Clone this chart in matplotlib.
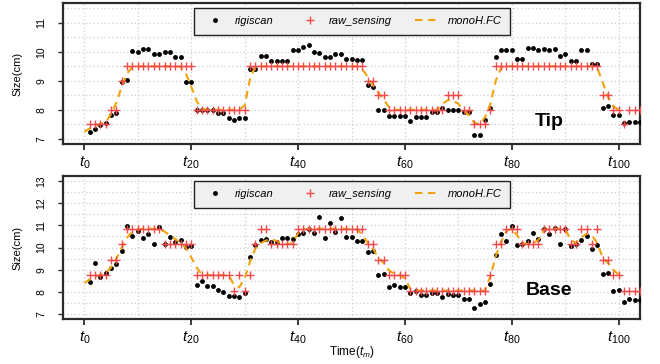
import matplotlib
matplotlib.use('Agg')
import matplotlib.pyplot as plt
from matplotlib.lines import Line2D

plt.rcParams['font.family'] = ['Liberation Sans', 'DejaVu Sans']
plt.rcParams['mathtext.fontset'] = 'custom'
plt.rcParams['mathtext.it'] = 'Liberation Sans:italic'
plt.rcParams['mathtext.rm'] = 'Liberation Sans'

# ---------------- data ----------------
time_points = list(range(1, 105))
curve_time = list(range(0, 101))

tip_rigiscan = [
    7.23, 7.33, 7.48, 7.54, 7.83, 7.89, 8.94, 9.01, 10.01, 10.00,
    10.11, 10.11, 9.92, 9.92, 9.98, 10.00, 9.82, 9.82, 8.97, 8.97,
    8.00, 8.00, 8.00, 8.00, 7.90, 7.90, 7.72, 7.65, 7.70, 7.70,
    9.40, 9.40, 9.86, 9.86, 9.67, 9.67, 9.67, 9.67, 10.07, 10.07,
    10.15, 10.22, 9.98, 9.96, 9.82, 9.82, 9.93, 9.93, 9.76, 9.74,
    9.72, 9.70, 8.86, 8.78, 8.00, 8.00, 7.77, 7.77, 7.77, 7.77,
    7.63, 7.74, 7.75, 7.75, 7.94, 7.94, 8.05, 8.00, 8.00, 8.00,
    7.91, 7.91, 7.14, 7.14, 7.66, 8.05, 9.82, 10.07, 10.07, 10.07,
    9.76, 9.76, 10.13, 10.13, 10.05, 10.10, 10.05, 10.11, 9.86, 9.92,
    9.67, 9.67, 10.07, 10.07, 9.57, 9.57, 8.06, 8.14, 7.83, 7.83,
    7.54, 7.59, 7.59, 7.59]

tip_raw = [
    7.5, 7.5, 7.5, 7.5, 8.0, 8.0, 9.0, 9.5, 9.5, 9.5,
    9.5, 9.5, 9.5, 9.5, 9.5, 9.5, 9.5, 9.5, 9.5, 9.5,
    8.0, 8.0, 8.0, 8.0, 8.0, 8.0, 8.0, 8.0, 8.0, 8.0,
    9.5, 9.5, 9.5, 9.5, 9.5, 9.5, 9.5, 9.5, 9.5, 9.5,
    9.5, 9.5, 9.5, 9.5, 9.5, 9.5, 9.5, 9.5, 9.5, 9.5,
    9.5, 9.5, 9.0, 9.0, 8.5, 8.5, 8.0, 8.0, 8.0, 8.0,
    8.0, 8.0, 8.0, 8.0, 8.0, 8.0, 8.0, 8.5, 8.5, 8.5,
    8.0, 8.0, 7.5, 7.5, 7.5, 8.0, 9.5, 9.5, 9.5, 9.5,
    9.5, 9.5, 9.5, 9.5, 9.5, 9.5, 9.5, 9.5, 9.5, 9.5,
    9.5, 9.5, 9.5, 9.5, 9.5, 9.5, 8.5, 8.5, 8.0, 8.0,
    7.5, 8.0, 8.0, 8.0]

tip_mono = [
    7.25, 7.35, 7.45, 7.52, 7.58, 7.85, 8.25, 8.80, 9.25, 9.48,
    9.50, 9.50, 9.50, 9.50, 9.50, 9.50, 9.50, 9.50, 9.48, 9.25,
    8.80, 8.30, 8.03, 8.00, 8.00, 8.00, 8.00, 8.00, 8.00, 8.00,
    8.15, 9.05, 9.50, 9.50, 9.50, 9.50, 9.50, 9.50, 9.50, 9.50,
    9.50, 9.50, 9.50, 9.50, 9.50, 9.50, 9.50, 9.50, 9.50, 9.50,
    9.50, 9.50, 9.40, 9.15, 8.85, 8.60, 8.35, 8.10, 8.00, 8.00,
    8.00, 8.00, 8.00, 8.00, 8.00, 8.00, 8.00, 8.20, 8.33, 8.33,
    8.20, 8.00, 7.80, 7.55, 7.50, 7.75, 8.20, 9.00, 9.45, 9.50,
    9.50, 9.50, 9.50, 9.50, 9.50, 9.50, 9.50, 9.50, 9.50, 9.50,
    9.50, 9.50, 9.50, 9.50, 9.50, 9.50, 9.45, 8.95, 8.45, 8.12,
    8.00]

base_rigiscan = [
    8.44, 9.30, 8.67, 8.85, 9.05, 9.26, 9.82, 10.97, 10.53, 10.73,
    10.41, 10.59, 10.17, 10.91, 10.15, 10.47, 10.23, 10.33, 10.02, 10.08,
    8.30, 8.47, 8.26, 8.26, 8.06, 7.99, 7.81, 7.81, 7.75, 7.95,
    9.56, 10.12, 10.34, 10.40, 10.26, 10.26, 10.42, 10.42, 10.40, 10.60,
    10.65, 10.82, 10.65, 11.38, 10.42, 11.09, 10.69, 11.35, 10.49, 10.49,
    10.29, 10.29, 9.80, 9.86, 8.75, 8.80, 8.22, 8.31, 8.22, 8.22,
    7.95, 8.02, 7.86, 7.86, 7.95, 7.95, 7.75, 7.90, 7.86, 7.86,
    7.65, 7.65, 7.26, 7.46, 7.54, 8.34, 9.65, 10.60, 10.29, 10.98,
    10.10, 10.14, 10.29, 10.65, 10.38, 10.83, 10.61, 10.89, 10.16, 10.83,
    10.05, 10.14, 10.34, 10.53, 9.95, 10.10, 8.82, 8.85, 8.05, 8.08,
    7.54, 7.65, 7.61, 7.61]

base_raw = [
    8.75, 8.75, 8.75, 8.75, 9.45, 9.45, 10.15, 10.85, 10.85, 10.85,
    10.85, 10.85, 10.85, 10.85, 10.15, 10.15, 10.15, 10.15, 10.15, 10.15,
    8.75, 8.75, 8.75, 8.75, 8.75, 8.75, 8.75, 8.05, 8.75, 8.05,
    8.75, 10.15, 10.85, 10.85, 10.15, 10.15, 10.15, 10.15, 10.15, 10.85,
    10.85, 10.85, 10.85, 10.85, 10.85, 10.85, 10.85, 10.85, 10.85, 10.85,
    10.85, 10.85, 10.15, 10.15, 9.45, 9.45, 8.75, 8.75, 8.75, 8.75,
    8.05, 8.05, 8.05, 8.05, 8.05, 8.05, 8.05, 8.05, 8.05, 8.05,
    8.05, 8.05, 8.05, 8.05, 8.05, 8.75, 10.15, 10.15, 10.85, 10.85,
    10.85, 10.15, 10.15, 10.15, 10.15, 10.85, 10.85, 10.85, 10.85, 10.85,
    10.15, 10.15, 10.85, 10.85, 10.15, 10.85, 9.45, 9.45, 8.75, 8.75,
    8.05, 8.05, 8.05, 8.05]

base_mono = [
    8.39, 8.55, 8.68, 8.76, 8.85, 9.10, 9.50, 10.00, 10.45, 10.72,
    10.82, 10.85, 10.85, 10.85, 10.82, 10.72, 10.55, 10.38, 10.22, 9.98,
    9.55, 9.10, 8.76, 8.75, 8.75, 8.75, 8.75, 8.75, 8.30, 8.20,
    8.60, 9.35, 9.95, 10.20, 10.32, 10.37, 10.30, 10.18, 10.15, 10.20,
    10.65, 10.82, 10.85, 10.85, 10.85, 10.85, 10.85, 10.85, 10.85, 10.85,
    10.85, 10.82, 10.60, 10.22, 9.95, 9.55, 9.30, 8.97, 8.80, 8.75,
    8.60, 8.12, 8.05, 8.05, 8.05, 8.05, 8.05, 8.05, 8.05, 8.05,
    8.05, 8.05, 8.05, 8.05, 8.05, 8.05, 8.70, 9.60, 10.25, 10.75,
    10.85, 10.55, 10.20, 10.16, 10.18, 10.35, 10.78, 10.85, 10.85, 10.85,
    10.85, 10.35, 10.20, 10.45, 10.62, 10.55, 10.20, 9.55, 9.30, 9.00,
    8.76]

x_tick_values = [0, 20, 40, 60, 80, 100]
x_tick_labels = [r'$t_{0}$', r'$t_{20}$', r'$t_{40}$', r'$t_{60}$', r'$t_{80}$', r'$t_{100}$']
series_names = ['rigiscan', 'raw_sensing', 'monoH.FC']

# ---------------- style ----------------
DOT_COLOR = 'black'
PLUS_COLOR = '#F24A4A'
CURVE_COLOR = '#F0A30A'
GRID_COLOR = '#CFCFCF'
SPINE_COLOR = '#2b2b2b'
DASHES = (0, (3.6, 2.6))

fig = plt.figure(figsize=(6.6, 3.64), dpi=100)
ax_tip = fig.add_axes([63 / 660, 1 - 144 / 364, 577 / 660, 141 / 364])
ax_base = fig.add_axes([63 / 660, 1 - 319 / 364, 577 / 660, 143 / 364])


def draw_panel(ax, rigi, raw, mono, ylim, yticks, label, label_xy):
    ax.set_xlim(-4, 104)
    span = ylim[1] - ylim[0]
    ax.set_ylim(ylim[0] - 0.04 * span, ylim[1] + 0.04 * span)
    # grid
    for gx in range(0, 101, 10):
        ax.axvline(gx, color=GRID_COLOR, lw=0.9, ls=(0, (1, 2)), zorder=0)
    gy = ylim[0]
    while gy <= ylim[1] + 1e-9:
        ax.axhline(gy, color=GRID_COLOR, lw=0.9, ls=(0, (1, 2)), zorder=0)
        gy += 0.5
    ax.plot(time_points, rigi, 'o', color=DOT_COLOR, ms=3.5, mew=0, zorder=3)
    ax.plot(curve_time, mono, color=CURVE_COLOR, lw=1.5, ls=DASHES, zorder=4)
    ax.plot(time_points, raw, '+', color=PLUS_COLOR, ms=6.0, mew=1.0, zorder=5)
    ax.set_xticks(x_tick_values)
    ax.set_xticklabels(x_tick_labels, fontsize=11)
    ax.set_yticks(yticks)
    ax.set_yticklabels([str(v) for v in yticks], fontsize=7.5, rotation=90, va='center')
    ax.tick_params(axis='x', length=4.5, width=1.3, pad=3, color=SPINE_COLOR)
    ax.tick_params(axis='y', length=3.8, width=1.0, pad=8, color=SPINE_COLOR)
    for sp in ax.spines.values():
        sp.set_linewidth(1.6)
        sp.set_color(SPINE_COLOR)
    handles = [
        Line2D([], [], marker='o', ls='none', color=DOT_COLOR, ms=3.5, mew=0),
        Line2D([], [], marker='+', ls='none', color=PLUS_COLOR, ms=6.0, mew=1.0),
        Line2D([], [], color=CURVE_COLOR, lw=1.5, ls=DASHES),
    ]
    leg = ax.legend(handles, series_names, ncol=3, loc='upper center',
                    bbox_to_anchor=(0.5009, 0.965), prop={'style': 'italic', 'size': 8},
                    frameon=True, fancybox=False, handlelength=2.3, handletextpad=0.6,
                    columnspacing=2.1, borderpad=0.75, borderaxespad=0)
    leg.get_frame().set_facecolor('#F0F0F0')
    leg.get_frame().set_edgecolor('#222222')
    leg.get_frame().set_linewidth(1.0)
    leg.get_frame().set_alpha(1)
    leg.set_zorder(10)
    ax.text(label_xy[0], label_xy[1], label, fontsize=14, fontweight='bold',
            ha='center', va='center', zorder=6)


draw_panel(ax_tip, tip_rigiscan, tip_raw, tip_mono, (7, 11.5), [7, 8, 9, 10, 11], 'Tip', (87, 7.59))
draw_panel(ax_base, base_rigiscan, base_raw, base_mono, (7, 13), [7, 8, 9, 10, 11, 12, 13], 'Base', (87, 8.04))

fig.text(17 / 660, 1 - 73.5 / 364, 'Size(cm)', rotation=90, ha='center', va='center', fontsize=8)
fig.text(17 / 660, 1 - 248 / 364, 'Size(cm)', rotation=90, ha='center', va='center', fontsize=8)
fig.text(351.5 / 660, 1 - 352 / 364, r'Time($t_m$)', ha='center', va='center', fontsize=8.5)

fig.savefig('out.png', dpi=100)
